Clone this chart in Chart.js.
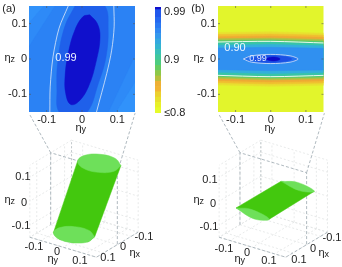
<!DOCTYPE html>
<html>
<head>
<meta charset="utf-8">
<script src="https://cdn.jsdelivr.net/npm/chart.js@4/dist/chart.umd.min.js"></script>
<style>
  html, body { margin: 0; padding: 0; background: #fff; width: 342px; height: 267px; overflow: hidden; }
  canvas { position: absolute; }
</style>
</head>
<body>
<canvas id="mapA" width="150" height="135" style="left:0;top:0"></canvas>
<canvas id="mapB" width="171" height="135" style="left:171px;top:0"></canvas>
<canvas id="barra" width="50" height="125" style="left:150px;top:0"></canvas>
<canvas id="boxA" width="171" height="154" style="left:0;top:113px"></canvas>
<canvas id="boxB" width="171" height="154" style="left:171px;top:113px"></canvas>
<script>
// ticks shared by the maps and the 3D boxes
const etaTicks = [-0.1, 0, 0.1];
const boxEdges = [-0.15, -0.1, 0, 0.1, 0.15];

// colour bar: level bounds and the colour of each step
const barLevels = [0.80, 0.81, 0.82, 0.83, 0.84, 0.85, 0.86, 0.87, 0.88, 0.89, 0.90, 0.91, 0.92, 0.93, 0.94, 0.95, 0.96, 0.97, 0.98, 0.995, 1.0];
const barColors = ['#e6fb2a', '#e8f028', '#e8e02c', '#ecd02e', '#f2b432', '#eeb034', '#b8c03c', '#8ec848', '#66cc60', '#4ccc80', '#40c89c',
  '#38c0b8', '#34b4d0', '#34a8e0', '#3498ec', '#3088f2', '#2a78f2', '#2468f0', '#2058ec', '#1010cc'];
const barTicks = [0.8, 0.9, 0.99];

// panel (a) contours, [eta_y, eta_z]
const aBand96 = [[-0.16, 0.09], [-0.10, 0.16], [0.16, 0.16], [0.16, -0.05], [0.09, -0.16], [-0.16, -0.16]];
const aBand97 = [[-0.16, 0.02], [-0.07, 0.16], [0.16, 0.16], [0.16, 0.03], [0.07, -0.16], [-0.16, -0.16]];
const aBand98 = [[-0.020, 0.150], [-0.049, 0.091], [-0.068, -0.003], [-0.071, -0.089], [-0.065, -0.150], [-0.025, -0.164], [0.015, -0.150],
  [0.046, -0.070], [0.068, 0.006], [0.074, 0.091], [0.065, 0.150], [0.022, 0.167]];
const aCore = [[0.022, 0.125], [0.043, 0.101], [0.051, 0.063], [0.041, -0.003], [0.018, -0.079], [-0.011, -0.122], [-0.033, -0.128],
  [-0.046, -0.098], [-0.048, -0.051], [-0.039, 0.016], [-0.020, 0.082], [0.003, 0.120]];
const a99Left = [[-0.039, 0.150], [-0.065, 0.087], [-0.082, 0.006], [-0.090, -0.079], [-0.091, -0.150]];
const a99Right = [[0.090, 0.150], [0.091, 0.091], [0.084, 0.025], [0.070, -0.041], [0.041, -0.150]];

// panel (b) stripes: eta_y stations, then upper and lower edge of each level
const bStations = [-0.16, 0, 0.16];
const bUpper = [[0.075, 0.077, 0.073], [0.069, 0.071, 0.067], [0.063, 0.065, 0.061], [0.057, 0.059, 0.055], [0.052, 0.054, 0.050],
  [0.046, 0.048, 0.044], [0.039, 0.041, 0.037], [0.031, 0.033, 0.030]];
const bLower = [[-0.073, -0.077, -0.074], [-0.067, -0.071, -0.068], [-0.061, -0.065, -0.062], [-0.055, -0.059, -0.056], [-0.050, -0.054, -0.051],
  [-0.044, -0.048, -0.045], [-0.037, -0.041, -0.038], [-0.030, -0.033, -0.031]];
const bColors = ['#e8e030', '#f0c030', '#eeaa34', '#a8c444', '#58cc70', '#38c4a8', '#34b0dc', '#3090f0'];
const b90Upper = [0.048, 0.050, 0.045];
const b90Lower = [-0.046, -0.050, -0.046];
const b99 = [[-0.078, 0], [-0.055, 0.009], [0, 0.013], [0.055, 0.009], [0.078, 0], [0.055, -0.009], [0, -0.013], [-0.055, -0.009]];
const bMid = [[-0.058, 0], [-0.03, 0.008], [0, 0.010], [0.035, 0.008], [0.060, 0], [0.035, -0.008], [0, -0.010], [-0.03, -0.008]];
const bCore = [[-0.016, 0], [0, 0.005], [0.015, 0.005], [0.027, 0], [0.015, -0.005], [0, -0.005]];

// cylinders, [eta_x, eta_y, eta_z]
const aTopEnd = [[-0.066, 0.125, 0.15], [-0.003, 0.133, 0.15], [0.043, 0.091, 0.15], [0.046, 0.026, 0.15], [0.003, -0.027, 0.15],
  [-0.060, -0.035, 0.15], [-0.106, 0.007, 0.15], [-0.109, 0.073, 0.15]];
const aBottomEnd = [[-0.010, 0.042, -0.15], [0.047, 0.048, -0.15], [0.090, 0.008, -0.15], [0.094, -0.055, -0.15], [0.057, -0.102, -0.15],
  [0.001, -0.108, -0.15], [-0.042, -0.068, -0.15], [-0.046, -0.006, -0.15]];
const aBody = [[0.003, -0.027, 0.15], [0.057, -0.102, -0.15], [0.094, -0.055, -0.15], [0.090, 0.008, -0.15], [0.047, 0.048, -0.15],
  [-0.010, 0.042, -0.15], [-0.066, 0.125, 0.15]];
const bLeftEnd = [[0.15, -0.074, -0.007], [0.15, -0.007, 0.006], [0.15, 0.076, -0.012], [0.15, 0.008, -0.030]];
const bRightEnd = [[-0.15, -0.059, 0.004], [-0.15, 0.016, 0.020], [-0.15, 0.091, 0.004], [-0.15, 0.023, -0.012]];
const bBody = [[-0.15, -0.059, 0.004], [0.15, -0.074, -0.007], [0.15, 0.076, -0.012], [-0.15, 0.091, 0.004]];

// connector lines towards the map corners
const joinLeft = [[0, -0.15, 0.15], [0, -0.243, 0.281]];
const joinRight = [[0, 0.15, 0.15], [0, 0.23, 0.42]];

function toXY(list) {
    return list.map(p => ({ x: p[0], y: p[1] }));
}

function closed(list) {
    return list.concat([list[0]]);
}

function area(list, color, tension) {
    return {
        data: toXY(closed(list)), showLine: true, pointRadius: 0, fill: 'shape', tension: tension || 0,
        backgroundColor: color, borderColor: color, borderWidth: 0.5
    };
}

function stroke(list, color, width, dash) {
    return {
        data: toXY(list), showLine: true, pointRadius: 0, fill: false, tension: 0.3,
        borderColor: color, borderWidth: width, borderDash: dash || []
    };
}

// oblique view of the box: one axis unit is the same length as on the maps
function project(p) {
    return [-0.395 * p[0] + 0.631 * p[1], -0.237 * p[0] - 0.189 * p[1] + 0.682 * p[2]];
}

function textPlugin(originX, originY, labels) {
    return {
        id: 'textos',
        afterDraw(chart) {
            const ctx = chart.ctx;
            ctx.save();
            ctx.textBaseline = 'middle';
            ctx.textAlign = 'left';
            labels.forEach(l => {
                const size = l.size || 11;
                ctx.font = size + 'px "Liberation Sans"';
                ctx.fillStyle = l.color || '#222';
                const w = ctx.measureText(l.text).width;
                const sw = l.sub ? 7 : 0;
                const x = l.x - originX - (w + sw) / 2;
                ctx.fillText(l.text, x, l.y - originY);
                if (l.sub) {
                    ctx.font = '9px "Liberation Sans"';
                    ctx.fillText(l.sub, x + w, l.y - originY + 2);
                }
            });
            ctx.restore();
        }
    };
}

const tickMarks = {
    id: 'marcas',
    afterDatasetsDraw(chart) {
        const { ctx, chartArea: a, scales } = chart;
        ctx.save();
        ctx.strokeStyle = '#555';
        ctx.lineWidth = 0.6;
        ctx.beginPath();
        etaTicks.forEach(t => {
            const px = scales.x.getPixelForValue(t);
            const py = scales.y.getPixelForValue(t);
            ctx.moveTo(px, a.top); ctx.lineTo(px, a.top + 2);
            ctx.moveTo(px, a.bottom); ctx.lineTo(px, a.bottom - 2);
            ctx.moveTo(a.left, py); ctx.lineTo(a.left + 2, py);
            ctx.moveTo(a.right, py); ctx.lineTo(a.right - 2, py);
        });
        ctx.stroke();
        ctx.restore();
    }
};

function etaLabel(v) {
    return v === 0 ? '0' : v.toFixed(1);
}

function drawMap(id, layers, yWidth, rightPad, background, labels, originX) {
    new Chart(document.getElementById(id), {
        type: 'scatter',
        // first dataset is painted last
        data: { datasets: layers.slice().reverse() },
        options: {
            responsive: false,
            animation: false,
            layout: { padding: { top: 6, right: rightPad, left: 0, bottom: 0 } },
            plugins: { legend: { display: false }, tooltip: { enabled: false } },
            scales: {
                x: {
                    type: 'linear', min: -0.15, max: 0.15,
                    grid: { display: false, drawTicks: false }, border: { display: false },
                    afterBuildTicks: s => { s.ticks = etaTicks.map(v => ({ value: v })); },
                    afterFit: s => { s.height = 23; s.paddingLeft = 0; s.paddingRight = 0; },
                    ticks: { color: '#222', font: { family: 'Liberation Sans', size: 11 }, padding: 1, maxRotation: 0, callback: etaLabel }
                },
                y: {
                    type: 'linear', min: -0.15, max: 0.15,
                    grid: { display: false, drawTicks: false }, border: { display: false },
                    afterBuildTicks: s => { s.ticks = etaTicks.map(v => ({ value: v })); },
                    afterFit: s => { s.width = yWidth; s.paddingTop = 0; s.paddingBottom = 0; },
                    ticks: { color: '#222', font: { family: 'Liberation Sans', size: 11 }, padding: 2, callback: etaLabel }
                }
            }
        },
        plugins: [{
            id: 'fundo',
            beforeDatasetsDraw(chart) {
                const a = chart.chartArea;
                chart.ctx.fillStyle = background;
                chart.ctx.fillRect(a.left, a.top, a.right - a.left, a.bottom - a.top);
            }
        }, tickMarks, textPlugin(originX, 0, labels)]
    });
}

function gridLines() {
    const pts = [];
    const seg = (p, q) => { pts.push(project(p), project(q), [NaN, NaN]); };
    boxEdges.forEach(t => {
        seg([t, -0.15, -0.15], [t, 0.15, -0.15]);
        seg([-0.15, t, -0.15], [0.15, t, -0.15]);
        seg([t, -0.15, -0.15], [t, -0.15, 0.15]);
        seg([-0.15, -0.15, t], [0.15, -0.15, t]);
        seg([-0.15, t, -0.15], [-0.15, t, 0.15]);
        seg([-0.15, -0.15, t], [-0.15, 0.15, t]);
    });
    return pts;
}

function projected(list) {
    return list.map(project);
}

function drawBox(id, shapes, centerX, originX, labels) {
    const centerY = 85.7;
    const unit = 352;
    const gray = '#9aa7ae';
    const back = [
        { data: toXY(gridLines()), showLine: true, pointRadius: 0, fill: false, spanGaps: false, borderColor: '#e2e4e4', borderWidth: 0.8, borderDash: [2, 2] },
        stroke(projected([[-0.15, -0.15, -0.15], [-0.15, -0.15, 0.15]]), '#bcc3c7', 0.8, [2, 2]),
        stroke(projected([[0, -0.15, -0.15], [0, -0.15, 0.15], [0, 0.15, 0.15], [0, 0.15, -0.15]]), gray, 0.8, [3, 2]),
        stroke(projected([[0.15, -0.15, -0.15], [0.15, 0.15, -0.15], [-0.15, 0.15, -0.15]]), gray, 0.8, [3, 2]),
        stroke(projected(joinLeft), gray, 0.8, [3, 2]),
        stroke(projected(joinRight), gray, 0.8, [3, 2])
    ];
    back.forEach(d => { d.tension = 0; });
    const layers = back.concat(shapes);
    new Chart(document.getElementById(id), {
        type: 'scatter',
        data: { datasets: layers.reverse() },
        options: {
            responsive: false,
            animation: false,
            plugins: { legend: { display: false }, tooltip: { enabled: false } },
            scales: {
                x: { type: 'linear', display: false, min: -centerX / unit, max: (171 - centerX) / unit },
                y: { type: 'linear', display: false, min: -(154 - centerY) / unit, max: centerY / unit }
            }
        },
        plugins: [textPlugin(originX, 113, labels)]
    });
}

// maps
const aLayers = [
    area(aBand96, '#2e8af7'),
    area(aBand97, '#2b82f4'),
    area(aBand98, '#1f60ea', 0.4),
    area(aCore, '#1010cc', 0.4),
    stroke(a99Left, '#dfeaf8', 0.8),
    stroke(a99Right, '#dfeaf8', 0.8)
];
const bLayers = [];
bColors.forEach((c, i) => {
    const up = bStations.map((s, k) => [s, bUpper[i][k]]);
    const low = bStations.map((s, k) => [s, bLower[i][k]]).reverse();
    bLayers.push(area(up.concat(low), c));
});
bLayers.push(
    area(b99, '#2470ee', 0.4),
    area(bMid, '#1c50e4', 0.4),
    area(bCore, '#0c0cc8', 0.4),
    stroke(closed(b99), '#dfeaf8', 0.8),
    stroke(bStations.map((s, k) => [s, b90Upper[k]]), '#e8f8f0', 1),
    stroke(bStations.map((s, k) => [s, b90Lower[k]]), '#e8f8f0', 1)
);

drawMap('mapA', aLayers, 29, 15, '#3192fa', [
    { text: '(a)', x: 9, y: 9 },
    { text: 'η', sub: 'z', x: 11, y: 58 },
    { text: 'η', sub: 'y', x: 82, y: 128 },
    { text: '0.99', x: 66, y: 58, color: '#eef4ff' }
], 0);
drawMap('mapB', bLayers, 47, 18.5, '#e2f52c', [
    { text: '(b)', x: 198, y: 9 },
    { text: 'η', sub: 'z', x: 200, y: 58 },
    { text: 'η', sub: 'y', x: 271, y: 128 },
    { text: '0.90', x: 235, y: 48, color: '#eef8ff' },
    { text: '0.99', x: 258, y: 59, size: 9, color: '#dfe8ff' }
], 171);

// colour bar
new Chart(document.getElementById('barra'), {
    type: 'bar',
    data: {
        labels: ['nivel'],
        datasets: barColors.map((c, i) => ({
            data: [[barLevels[i], barLevels[i + 1]]], backgroundColor: c, borderWidth: 0,
            barPercentage: 1, categoryPercentage: 1, grouped: false
        }))
    },
    options: {
        responsive: false,
        animation: false,
        layout: { padding: { top: 7, left: 5, right: 0, bottom: 12 } },
        plugins: { legend: { display: false }, tooltip: { enabled: false } },
        scales: {
            x: { display: false },
            y: {
                position: 'right', min: 0.8, max: 1,
                grid: { display: false, drawTicks: false }, border: { display: false },
                afterBuildTicks: s => { s.ticks = barTicks.map(v => ({ value: v })); },
                afterFit: s => { s.width = 39; s.paddingTop = 0; s.paddingBottom = 0; },
                ticks: {
                    color: '#222', font: { family: 'Liberation Sans', size: 11 }, padding: 3,
                    callback: v => (v === 0.8 ? '≤0.8' : String(v))
                }
            }
        }
    }
});

// 3D boxes
drawBox('boxA', [
    area(projected(aBody), '#43c80e'),
    area(projected(aBottomEnd), '#6ee05a', 0.4),
    area(projected(aTopEnd), '#6ee05a', 0.4)
], 84, 0, [
    { text: '0.1', x: 23, y: 177 }, { text: '0', x: 24, y: 203 }, { text: '-0.1', x: 21, y: 226 },
    { text: 'η', sub: 'z', x: 11, y: 200 },
    { text: '-0.1', x: 34, y: 247 }, { text: '0', x: 57, y: 252 }, { text: '0.1', x: 80, y: 261 },
    { text: 'η', sub: 'y', x: 54, y: 259 },
    { text: '-0.1', x: 144, y: 237 }, { text: '0', x: 123, y: 247 }, { text: '0.1', x: 108, y: 258 },
    { text: 'η', sub: 'x', x: 136, y: 253 }
]);
drawBox('boxB', [
    area(projected(bBody), '#43c80e'),
    area(projected(bLeftEnd), '#6ee05a', 0.4),
    area(projected(bRightEnd), '#6ee05a', 0.4)
], 102.3, 171, [
    { text: '0.1', x: 210, y: 180 }, { text: '0', x: 213, y: 204 }, { text: '-0.1', x: 209, y: 227 },
    { text: 'η', sub: 'z', x: 200, y: 200 },
    { text: '-0.1', x: 224, y: 249 }, { text: '0', x: 247, y: 253 }, { text: '0.1', x: 269, y: 261 },
    { text: 'η', sub: 'y', x: 241, y: 259 },
    { text: '-0.1', x: 332, y: 238 }, { text: '0', x: 313, y: 249 }, { text: '0.1', x: 299, y: 260 },
    { text: 'η', sub: 'x', x: 325, y: 253 }
]);
</script>
</body>
</html>
